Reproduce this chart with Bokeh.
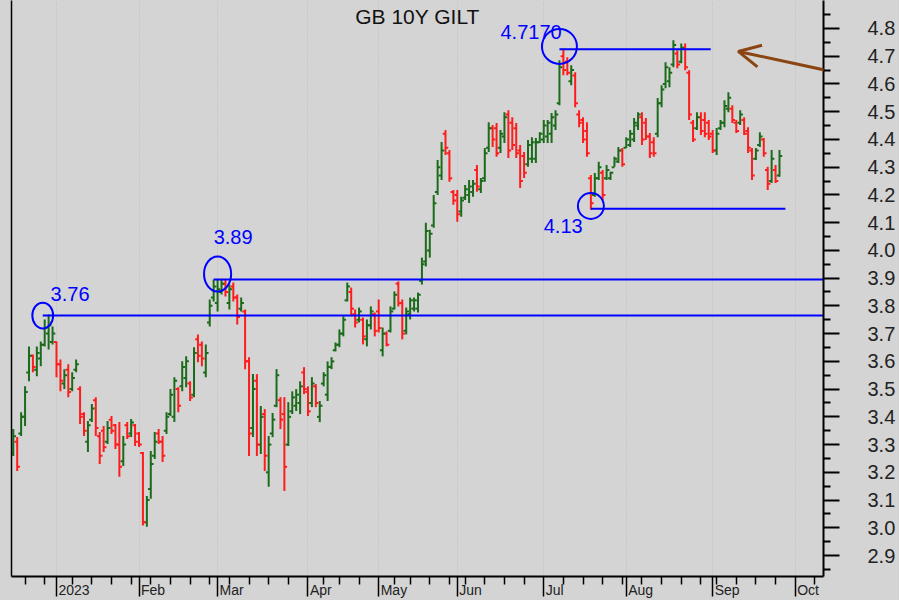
import pandas as pd
from bokeh.plotting import figure
from bokeh.core.properties import value
from bokeh.models import (ColumnDataSource, LinearAxis, FixedTicker,
                          PrintfTickFormatter, Range1d, Label, LabelSet, Arrow, OpenHead,
                          GlobalInlineStyleSheet)
from bokeh.embed import file_html
from bokeh.resources import INLINE

# ---------------- data ----------------
title_text = "GB 10Y GILT"
uk_holidays = ["2022-12-26", "2022-12-27", "2023-01-02", "2023-04-07", "2023-04-10",
               "2023-05-01", "2023-05-08", "2023-05-29", "2023-08-28"]
first_bar_date = "2022-12-14"
origin_date = "2023-01-03"

bar_open = [
    3.27, 3.31, 3.34, 3.40, 3.56, 3.62, 3.57, 3.61, 3.66, 3.70, 3.67,
    3.67, 3.59, 3.52, 3.57, 3.50, 3.57, 3.50, 3.41, 3.31, 3.39,
    3.46, 3.33, 3.35, 3.31, 3.39, 3.37, 3.30, 3.24, 3.37, 3.34,
    3.37, 3.34, 3.27, 3.02, 3.14, 3.26, 3.34, 3.31, 3.35, 3.41,
    3.40, 3.50, 3.51, 3.54, 3.52, 3.48, 3.68, 3.66, 3.56, 3.74,
    3.83, 3.81, 3.85, 3.88, 3.81, 3.87, 3.83, 3.79, 3.78, 3.60,
    3.36, 3.53, 3.30, 3.41, 3.20, 3.34, 3.44, 3.46, 3.41, 3.30,
    3.42, 3.44, 3.45, 3.56, 3.49, 3.45, 3.51, 3.40, 3.52, 3.48,
    3.58, 3.64, 3.66, 3.70, 3.82, 3.85, 3.77, 3.75, 3.75, 3.68,
    3.73, 3.77, 3.78, 3.64, 3.70, 3.71, 3.79, 3.88, 3.81, 3.71,
    3.77, 3.79, 3.79, 3.89, 3.96, 4.00, 4.09, 4.21, 4.27, 4.42,
    4.35, 4.21, 4.20, 4.14, 4.19, 4.20, 4.21, 4.29, 4.22, 4.26,
    4.37, 4.44, 4.44, 4.37, 4.41, 4.49, 4.46, 4.44, 4.36, 4.34,
    4.31, 4.33, 4.33, 4.39, 4.40, 4.41, 4.42, 4.45, 4.53, 4.70,
    4.68, 4.61, 4.63, 4.49, 4.47, 4.43, 4.26, 4.20, 4.26, 4.28,
    4.26, 4.26, 4.30, 4.32, 4.36, 4.37, 4.38, 4.40, 4.45, 4.48,
    4.46, 4.41, 4.39, 4.42, 4.53, 4.60, 4.61, 4.67, 4.71, 4.68,
    4.73, 4.64, 4.46, 4.44, 4.48, 4.47, 4.46, 4.42, 4.36, 4.44,
    4.46, 4.51, 4.51, 4.46, 4.46, 4.47, 4.43, 4.36, 4.33, 4.38,
    4.40, 4.29, 4.25, 4.29, 4.27]
bar_high = [
    3.356, 3.327, 3.417, 3.510, 3.654, 3.625, 3.654, 3.672, 3.751, 3.769, 3.726,
    3.672, 3.607, 3.572, 3.590, 3.561, 3.607, 3.510, 3.417, 3.385, 3.446,
    3.471, 3.345, 3.367, 3.385, 3.403, 3.374, 3.381, 3.331, 3.381, 3.392,
    3.374, 3.345, 3.273, 3.115, 3.277, 3.345, 3.356, 3.331, 3.417, 3.500,
    3.543, 3.507, 3.600, 3.618, 3.528, 3.651, 3.697, 3.672, 3.661, 3.823,
    3.895, 3.895, 3.895, 3.895, 3.877, 3.884, 3.841, 3.830, 3.787, 3.615,
    3.554, 3.554, 3.439, 3.428, 3.331, 3.414, 3.572, 3.471, 3.471, 3.453,
    3.492, 3.500, 3.528, 3.579, 3.510, 3.543, 3.518, 3.457, 3.561, 3.600,
    3.615, 3.668, 3.715, 3.762, 3.884, 3.866, 3.787, 3.794, 3.758, 3.751,
    3.798, 3.776, 3.823, 3.722, 3.708, 3.798, 3.852, 3.888, 3.823, 3.794,
    3.830, 3.830, 3.848, 3.974, 4.100, 4.074, 4.200, 4.326, 4.391, 4.434,
    4.362, 4.218, 4.218, 4.193, 4.236, 4.254, 4.254, 4.308, 4.261, 4.369,
    4.462, 4.452, 4.459, 4.434, 4.498, 4.505, 4.480, 4.459, 4.380, 4.355,
    4.398, 4.408, 4.405, 4.426, 4.470, 4.470, 4.495, 4.505, 4.685, 4.728,
    4.696, 4.667, 4.642, 4.505, 4.480, 4.462, 4.272, 4.279, 4.319, 4.290,
    4.308, 4.283, 4.337, 4.373, 4.369, 4.408, 4.434, 4.477, 4.498, 4.498,
    4.477, 4.423, 4.408, 4.549, 4.595, 4.678, 4.660, 4.757, 4.721, 4.746,
    4.746, 4.649, 4.470, 4.498, 4.498, 4.498, 4.470, 4.434, 4.441, 4.470,
    4.541, 4.570, 4.523, 4.470, 4.505, 4.480, 4.444, 4.369, 4.369, 4.426,
    4.405, 4.301, 4.362, 4.308, 4.362]
bar_low = [
    3.259, 3.205, 3.331, 3.367, 3.528, 3.561, 3.546, 3.582, 3.654, 3.643, 3.661,
    3.543, 3.492, 3.500, 3.471, 3.492, 3.561, 3.374, 3.331, 3.273, 3.381,
    3.331, 3.230, 3.273, 3.302, 3.338, 3.284, 3.184, 3.223, 3.320, 3.327,
    3.295, 3.291, 3.008, 3.004, 3.105, 3.248, 3.302, 3.237, 3.338, 3.403,
    3.381, 3.417, 3.492, 3.507, 3.457, 3.471, 3.597, 3.582, 3.543, 3.726,
    3.816, 3.780, 3.841, 3.834, 3.787, 3.816, 3.733, 3.780, 3.572, 3.259,
    3.327, 3.259, 3.266, 3.205, 3.148, 3.327, 3.435, 3.356, 3.133, 3.295,
    3.410, 3.421, 3.410, 3.482, 3.403, 3.435, 3.435, 3.381, 3.510, 3.457,
    3.572, 3.636, 3.651, 3.690, 3.816, 3.762, 3.722, 3.740, 3.661, 3.654,
    3.715, 3.690, 3.704, 3.618, 3.654, 3.704, 3.787, 3.798, 3.679, 3.697,
    3.751, 3.780, 3.776, 3.877, 3.942, 3.974, 4.082, 4.200, 4.254, 4.344,
    4.247, 4.164, 4.103, 4.121, 4.182, 4.171, 4.193, 4.211, 4.207, 4.247,
    4.355, 4.373, 4.337, 4.351, 4.387, 4.333, 4.362, 4.333, 4.225, 4.261,
    4.301, 4.315, 4.315, 4.387, 4.387, 4.387, 4.387, 4.434, 4.523, 4.631,
    4.631, 4.595, 4.516, 4.444, 4.387, 4.337, 4.146, 4.193, 4.254, 4.182,
    4.254, 4.254, 4.301, 4.315, 4.301, 4.369, 4.373, 4.391, 4.434, 4.380,
    4.398, 4.333, 4.337, 4.408, 4.516, 4.584, 4.588, 4.660, 4.656, 4.674,
    4.649, 4.470, 4.391, 4.434, 4.416, 4.408, 4.398, 4.351, 4.344, 4.434,
    4.444, 4.498, 4.459, 4.423, 4.452, 4.416, 4.351, 4.254, 4.326, 4.373,
    4.337, 4.218, 4.243, 4.243, 4.265]
bar_close = [
    3.33, 3.22, 3.40, 3.49, 3.62, 3.58, 3.63, 3.66, 3.72, 3.73, 3.70,
    3.59, 3.53, 3.55, 3.49, 3.54, 3.59, 3.40, 3.35, 3.37, 3.43,
    3.36, 3.26, 3.29, 3.36, 3.35, 3.30, 3.22, 3.30, 3.33, 3.38,
    3.31, 3.30, 3.02, 3.10, 3.23, 3.31, 3.31, 3.26, 3.40, 3.48,
    3.53, 3.44, 3.58, 3.60, 3.47, 3.63, 3.62, 3.61, 3.63, 3.80,
    3.87, 3.86, 3.88, 3.85, 3.86, 3.83, 3.76, 3.81, 3.60, 3.34,
    3.50, 3.30, 3.40, 3.26, 3.30, 3.39, 3.55, 3.39, 3.22, 3.40,
    3.47, 3.48, 3.51, 3.50, 3.42, 3.52, 3.45, 3.44, 3.55, 3.58,
    3.60, 3.66, 3.70, 3.75, 3.87, 3.79, 3.74, 3.78, 3.69, 3.73,
    3.78, 3.71, 3.72, 3.70, 3.66, 3.78, 3.84, 3.81, 3.70, 3.78,
    3.82, 3.82, 3.84, 3.95, 4.07, 4.06, 4.17, 4.30, 4.36, 4.37,
    4.26, 4.18, 4.13, 4.18, 4.22, 4.23, 4.24, 4.23, 4.25, 4.35,
    4.44, 4.40, 4.35, 4.42, 4.48, 4.36, 4.38, 4.35, 4.25, 4.28,
    4.38, 4.39, 4.39, 4.42, 4.45, 4.46, 4.48, 4.49, 4.66, 4.65,
    4.64, 4.65, 4.53, 4.46, 4.40, 4.35, 4.17, 4.26, 4.30, 4.20,
    4.29, 4.28, 4.33, 4.36, 4.31, 4.40, 4.42, 4.46, 4.49, 4.40,
    4.41, 4.35, 4.35, 4.53, 4.58, 4.66, 4.64, 4.74, 4.67, 4.73,
    4.66, 4.49, 4.40, 4.48, 4.43, 4.42, 4.41, 4.36, 4.42, 4.46,
    4.52, 4.55, 4.47, 4.43, 4.49, 4.42, 4.37, 4.27, 4.36, 4.41,
    4.35, 4.24, 4.33, 4.25, 4.34]

month_labels = ["2023", "Feb", "Mar", "Apr", "May", "Jun", "Jul", "Aug", "Sep", "Oct"]
month_periods = ["2023-01", "2023-02", "2023-03", "2023-04", "2023-05",
                 "2023-06", "2023-07", "2023-08", "2023-09", "2023-10"]
y_major_ticks = [2.9, 3.0, 3.1, 3.2, 3.3, 3.4, 3.5, 3.6, 3.7, 3.8,
                 3.9, 4.0, 4.1, 4.2, 4.3, 4.4, 4.5, 4.6, 4.7, 4.8]
y_minor_ticks = [2.85, 2.95, 3.05, 3.15, 3.25, 3.35, 3.45, 3.55, 3.65, 3.75,
                 3.85, 3.95, 4.05, 4.15, 4.25, 4.35, 4.45, 4.55, 4.65, 4.75, 4.85]

# annotations: marked levels
mark_text = ["3.76", "3.89", "4.7170", "4.13"]
mark_value = [3.765, 3.895, 4.725, 4.150]
mark_start_day = [-3.5, 40, 128, 136]
mark_end_day = [None, None, 166.5, 185.5]      # None = to right edge
circle_day = [-3.5, 41, 128, 136]
circle_value = [3.765, 3.915, 4.735, 4.160]
circle_w_days = [5.3, 6.9, 8.9, 6.6]
circle_h = [0.093, 0.126, 0.126, 0.093]
text_day = [-1.5, 40, 113, 124]
text_value = [3.841, 4.049, 4.786, 4.089]
arrow_from = (214.5, 4.592)
arrow_to = (173.5, 4.717)

# ---------------- calendar ----------------
cal = pd.bdate_range("2022-11-28", "2023-11-10")
cal = cal[~cal.isin(pd.to_datetime(uk_holidays))]
origin = cal.get_loc(pd.Timestamp(origin_date))
start = cal.get_loc(pd.Timestamp(first_bar_date))
bar_day = [start + k - origin for k in range(len(bar_open))]

cal_s = pd.Series(range(len(cal)), index=cal) - origin
month_first = cal_s.groupby(cal.to_period("M")).first()
iso = cal.isocalendar()
week_first = cal_s.groupby([iso.year.values, iso.week.values]).first()
major_days = [int(v) for v in month_first.values]
minor_days = [int(v) for v in week_first.values if int(v) not in major_days]
label_days = [int(month_first[pd.Period(m, "M")]) for m in month_periods]

# ---------------- figure ----------------
up_color = "#1b6b1b"
down_color = "#ff1c1c"
mark_color = "#0000ff"
font = "Liberation Sans"
month_font_px = 14

frame_w, frame_h = 812, 578
x_start, x_end = -11.45, 195.2
y_start, y_end = 2.8246, 4.9006
days_per_px = (x_end - x_start) / frame_w
price_per_px = (y_end - y_start) / frame_h

# Arial / Liberation Sans advance widths (em) used to set month names just right of their tick
char_em = {"0": .556, "2": .556, "3": .556, "F": .611, "e": .556, "b": .556, "M": .833,
           "a": .556, "r": .333, "A": .667, "p": .556, "y": .5, "J": .5, "u": .556,
           "n": .556, "l": .222, "g": .556, "S": .667, "O": .778, "c": .5, "t": .278}


def text_px(t):
    return sum(char_em.get(ch, .556) for ch in t) * month_font_px


p = figure(width=899, height=600, output_backend="svg", toolbar_location=None,
           x_range=Range1d(x_start, x_end), y_range=Range1d(y_start, y_end),
           y_axis_location="right", min_border_left=11, min_border_top=0,
           min_border_bottom=22, min_border_right=76)
p.background_fill_color = "#d4d4d4"
p.border_fill_color = "#d4d4d4"
p.outline_line_color = None
p.stylesheets = [GlobalInlineStyleSheet(css="body { background: #d4d4d4; }")]

colors = [up_color if c >= o else down_color for o, c in zip(bar_open, bar_close)]
src = ColumnDataSource(dict(
    x=bar_day, o=bar_open, h=bar_high, l=bar_low, c=bar_close, color=colors,
    xl=[d - 0.7 for d in bar_day], xr=[d + 0.7 for d in bar_day]))

# grid
p.ygrid.visible = False
p.xgrid.ticker = FixedTicker(ticks=major_days)
p.xgrid.grid_line_color = "#bcbcbc"
p.xgrid.grid_line_dash = "1 2"
p.xgrid.grid_line_width = 1

# OHLC bars
p.segment(x0="x", y0="l", x1="x", y1="h", color="color", line_width=2, source=src)
p.segment(x0="xl", y0="o", x1="x", y1="o", color="color", line_width=2, source=src)
p.segment(x0="x", y0="c", x1="xr", y1="c", color="color", line_width=2, source=src)

# marked levels
ends = [x_end if e is None else e for e in mark_end_day]
p.segment(x0=mark_start_day, y0=mark_value, x1=ends, y1=mark_value,
          color=mark_color, line_width=2)
p.ellipse(x=circle_day, y=circle_value, width=circle_w_days, height=circle_h,
          fill_color=None, line_color=mark_color, line_width=2)
mark_src = ColumnDataSource(dict(x=text_day, y=text_value, t=mark_text))
p.add_layout(LabelSet(x="x", y="y", text="t", source=mark_src, text_color=mark_color,
                      text_font=value(font), text_font_size="20px",
                      text_baseline="middle", text_align="left"))

# title inside plot
p.add_layout(Label(x=(x_start + x_end) / 2, y=y_end - 16 * price_per_px, text=title_text,
                   text_font=font, text_font_size="21px", text_color="#111111",
                   text_align="center", text_baseline="middle"))

# arrow
p.add_layout(Arrow(end=OpenHead(line_color="#8b4513", line_width=3, size=22),
                   x_start=arrow_from[0], y_start=arrow_from[1],
                   x_end=arrow_to[0], y_end=arrow_to[1],
                   line_color="#8b4513", line_width=3))

# right axis
ya = p.yaxis[0]
ya.ticker = FixedTicker(ticks=y_major_ticks, minor_ticks=y_minor_ticks)
ya.formatter = PrintfTickFormatter(format="%.1f")
ya.axis_line_width = 2
ya.axis_line_color = "black"
ya.major_tick_in = 0
ya.major_tick_out = 16
ya.major_tick_line_width = 2
ya.minor_tick_in = 0
ya.minor_tick_out = 7
ya.minor_tick_line_width = 2
ya.major_label_standoff = 28
ya.major_label_text_font = font
ya.major_label_text_font_size = "20px"
ya.major_label_text_color = "#222222"

# bottom axis: month and week ticks (no labels of its own)
xa = p.xaxis[0]
xa.ticker = FixedTicker(ticks=major_days, minor_ticks=minor_days)
xa.axis_line_width = 2
xa.axis_line_color = "black"
xa.major_tick_in = 0
xa.major_tick_out = 20
xa.major_tick_line_width = 1.5
xa.minor_tick_in = 0
xa.minor_tick_out = 8
xa.minor_tick_line_width = 1.5
xa.major_label_text_font_size = "1px"
xa.major_label_text_color = None
xa.major_label_standoff = 0

# second bottom axis carrying the month names, set just right of each month tick
label_pos = [round(d + (2 + text_px(t) / 2) * days_per_px, 4)
             for d, t in zip(label_days, month_labels)]
xb = LinearAxis(ticker=FixedTicker(ticks=label_pos),
                major_label_overrides={pos: t for pos, t in zip(label_pos, month_labels)},
                major_tick_out=0, major_tick_in=0, minor_tick_out=0, minor_tick_in=0,
                major_tick_line_color=None, minor_tick_line_color=None,
                axis_line_color=None, major_label_standoff=-15,
                major_label_text_font=font, major_label_text_font_size=f"{month_font_px}px",
                major_label_text_color="#222222")
p.add_layout(xb, "below")

# left border line
la = LinearAxis(ticker=FixedTicker(ticks=[]), major_label_text_font_size="1px",
                major_label_text_color=None,
                major_tick_out=0, minor_tick_out=0, major_label_standoff=0,
                axis_line_color="black", axis_line_width=1.5)
p.add_layout(la, "left")

open("out.html", "w").write(file_html(p, INLINE))
